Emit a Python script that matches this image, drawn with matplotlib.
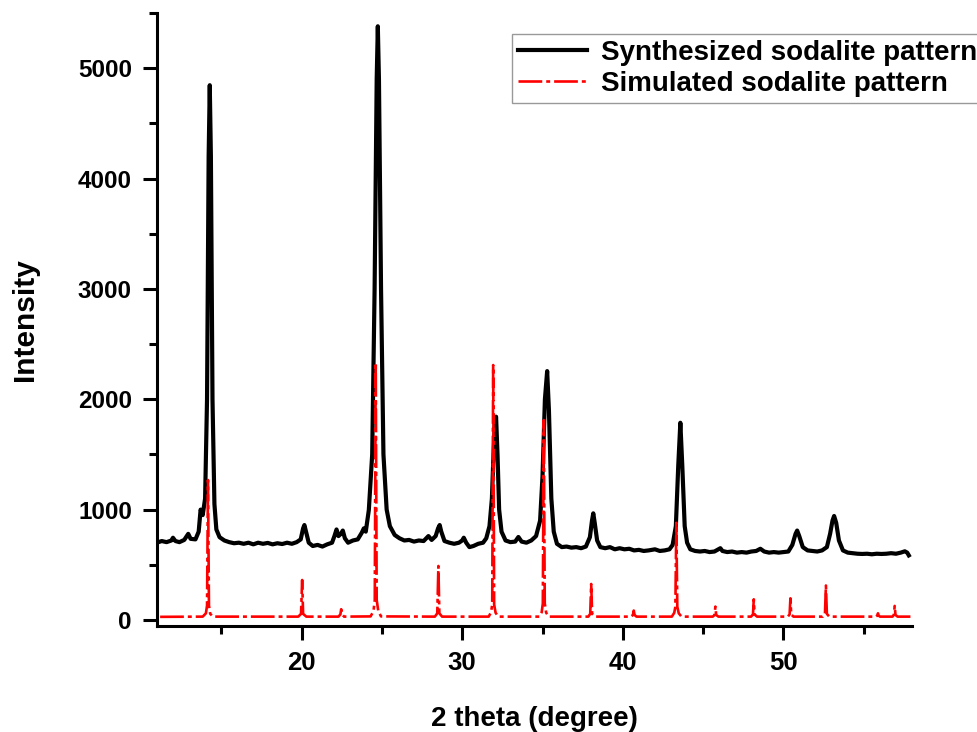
import numpy as np
import matplotlib
matplotlib.use('Agg')
import matplotlib.pyplot as plt
from matplotlib.ticker import MultipleLocator

plt.rcParams['font.family'] = ['Liberation Sans', 'DejaVu Sans']
plt.rcParams['font.weight'] = 'bold'

# Synthesized sodalite pattern
synth_x = [11.0, 11.3, 11.6, 11.9, 12.0, 12.15, 12.4, 12.7, 12.95, 13.1, 13.4, 13.6, 13.72, 13.85,
           14.0, 14.12, 14.22, 14.29, 14.36, 14.46, 14.58, 14.7, 14.9, 15.2, 15.5, 15.8, 16.1,
           16.4, 16.7, 17.0, 17.3, 17.6, 17.9, 18.2, 18.5, 18.8, 19.1, 19.4, 19.7, 19.95, 20.1,
           20.18, 20.28, 20.45, 20.7, 21.0, 21.3, 21.6, 21.9, 22.05, 22.18, 22.3, 22.45, 22.57,
           22.7, 22.9, 23.2, 23.5, 23.75, 23.88, 24.0, 24.19, 24.4, 24.55, 24.68, 24.75, 24.82,
           24.95, 25.1, 25.3, 25.5, 25.8, 26.1, 26.4, 26.7, 27.0, 27.3, 27.6, 27.9, 28.1, 28.35,
           28.5, 28.6, 28.7, 28.9, 29.2, 29.5, 29.8, 30.0, 30.1, 30.25, 30.45, 30.7, 31.0, 31.3,
           31.5, 31.7, 31.85, 31.95, 32.05, 32.11, 32.2, 32.3, 32.45, 32.7, 33.0, 33.3, 33.5,
           33.7, 34.0, 34.3, 34.6, 34.85, 35.0, 35.15, 35.29, 35.4, 35.55, 35.7, 35.9, 36.2,
           36.5, 36.8, 37.1, 37.4, 37.7, 37.95, 38.08, 38.16, 38.25, 38.4, 38.6, 38.9, 39.2,
           39.5, 39.8, 40.1, 40.4, 40.7, 41.0, 41.3, 41.6, 42.0, 42.3, 42.6, 42.9, 43.1, 43.3,
           43.45, 43.58, 43.7, 43.85, 44.0, 44.2, 44.5, 44.8, 45.1, 45.4, 45.7, 45.95, 46.07,
           46.2, 46.5, 46.8, 47.1, 47.4, 47.7, 48.0, 48.3, 48.56, 48.8, 49.1, 49.4, 49.7, 50.0,
           50.3, 50.55, 50.75, 50.85, 50.98, 51.2, 51.5, 51.8, 52.1, 52.4, 52.7, 52.9, 53.05,
           53.15, 53.28, 53.45, 53.7, 54.0, 54.3, 54.6, 54.9, 55.2, 55.5, 55.8, 56.1, 56.4,
           56.7, 57.0, 57.3, 57.55, 57.7, 57.8]
synth_y = [700, 715, 705, 720, 745, 715, 705, 725, 780, 735, 730, 800, 1000, 950,
           1100, 2000, 4200, 4846, 4200, 2000, 1050, 820, 750, 720, 705, 695, 700,
           690, 700, 685, 700, 690, 698, 685, 695, 688, 700, 690, 705, 730, 830,
           860, 800, 700, 670, 680, 665, 685, 700, 760, 820, 760, 780, 810,
           740, 700, 720, 730, 790, 830, 800, 996, 1500, 3000, 4900, 5380, 4900,
           3000, 1500, 1000, 850, 770, 740, 720, 725, 710, 720, 715, 760, 725, 760,
           830, 860, 800, 715, 700, 690, 700, 720, 745, 700, 660, 670, 690, 700,
           740, 850, 1100, 1500, 1800, 1842, 1500, 1000, 800, 720, 705, 710, 752,
           710, 700, 720, 760, 900, 1300, 2000, 2255, 1900, 1100, 800, 690, 660,
           665, 655, 660, 650, 665, 750, 900, 966, 880, 720, 660, 650, 660,
           640, 650, 640, 645, 630, 635, 625, 630, 640, 625, 630, 640, 680, 850,
           1400, 1787, 1400, 850, 700, 640, 625, 620, 625, 615, 620, 640, 650,
           625, 615, 620, 610, 615, 610, 620, 625, 645, 620, 610, 615, 610, 615,
           620, 680, 780, 810, 760, 660, 630, 625, 620, 630, 660, 780, 900,
           942, 880, 720, 630, 610, 605, 600, 598, 600, 595, 600, 598, 600,
           605, 600, 610, 622, 610, 585]

# Simulated sodalite pattern
sim_x = [11.2, 13.85, 14.05, 14.12, 14.18, 14.24, 14.32, 14.5,
         19.8, 19.97, 20.04, 20.1, 20.3,
         22.3, 22.42, 22.47, 22.53, 22.65,
         24.3, 24.48, 24.56, 24.62, 24.68, 24.78, 24.95,
         28.3, 28.45, 28.52, 28.58, 28.75,
         31.65, 31.8, 31.87, 31.93, 31.99, 32.08, 32.25,
         34.8, 34.95, 35.02, 35.08, 35.14, 35.23, 35.4,
         37.85, 37.97, 38.03, 38.09, 38.25,
         40.5, 40.63, 40.68, 40.73, 40.85,
         43.05, 43.2, 43.27, 43.33, 43.39, 43.48, 43.65,
         45.6, 45.71, 45.76, 45.81, 45.95,
         47.98, 48.1, 48.15, 48.2, 48.35,
         50.27, 50.38, 50.43, 50.48, 50.62,
         52.45, 52.58, 52.64, 52.7, 52.85,
         55.75, 55.84, 55.88, 55.92, 56.0,
         56.78, 56.87, 56.92, 56.97, 57.1,
         57.9]
sim_y = [28, 30, 60, 130, 1268, 130, 55, 30,
         30, 55, 362, 55, 30,
         30, 50, 97, 50, 30,
         32, 80, 180, 2331, 180, 80, 32,
         30, 60, 489, 60, 30,
         30, 70, 140, 2310, 140, 65, 30,
         30, 70, 150, 1812, 150, 65, 30,
         30, 55, 326, 55, 30,
         30, 45, 85, 45, 30,
         30, 65, 120, 880, 120, 60, 30,
         30, 45, 121, 45, 30,
         30, 50, 187, 50, 30,
         30, 50, 196, 50, 30,
         30, 55, 312, 55, 30,
         30, 40, 60, 40, 30,
         30, 45, 127, 45, 30,
         30]

fig = plt.figure(figsize=(9.77, 7.32), dpi=100)
ax = fig.add_axes([0.1606, 0.1448, 0.7729, 0.8374])

ax.plot(synth_x, synth_y, color='black', lw=3.0, solid_joinstyle='round',
        label='Synthesized sodalite pattern', zorder=2)
ax.plot(sim_x, sim_y, color='red', lw=1.9, linestyle=(0, (9, 1.5, 1.5, 1.5)),
        label='Simulated sodalite pattern', zorder=3)

ax.set_xlim(11, 58)
ax.set_ylim(-55, 5500)

ax.spines['top'].set_visible(False)
ax.spines['right'].set_visible(False)
for s in ['left', 'bottom']:
    ax.spines[s].set_linewidth(2.2)

ax.xaxis.set_major_locator(MultipleLocator(10))
ax.xaxis.set_minor_locator(MultipleLocator(5))
ax.yaxis.set_major_locator(MultipleLocator(1000))
ax.yaxis.set_minor_locator(MultipleLocator(500))
ax.tick_params(which='major', direction='out', length=10, width=2.2)
ax.tick_params(which='minor', direction='out', length=5.5, width=2.2)
ax.tick_params(axis='x', which='major', labelsize=18.5, pad=8)
ax.tick_params(axis='y', which='major', labelsize=17.5, pad=8)
for lab in ax.get_xticklabels() + ax.get_yticklabels():
    lab.set_fontweight('bold')

ax.set_xlabel('2 theta (degree)', fontsize=20, fontweight='bold', labelpad=22)
ax.set_ylabel('Intensity', fontsize=21.5, fontweight='bold', labelpad=28)

leg = ax.legend(loc='upper left', bbox_to_anchor=(0.524, 0.9536), bbox_transform=fig.transFigure,
                fontsize=20, frameon=True, fancybox=False, borderpad=0.2, borderaxespad=0,
                handlelength=2.5, handletextpad=0.5, labelspacing=0.2)
leg.get_frame().set_edgecolor('#808080')
leg.get_frame().set_linewidth(1.0)
for t in leg.get_texts():
    t.set_fontweight('bold')

fig.savefig('out.png', dpi=100)
